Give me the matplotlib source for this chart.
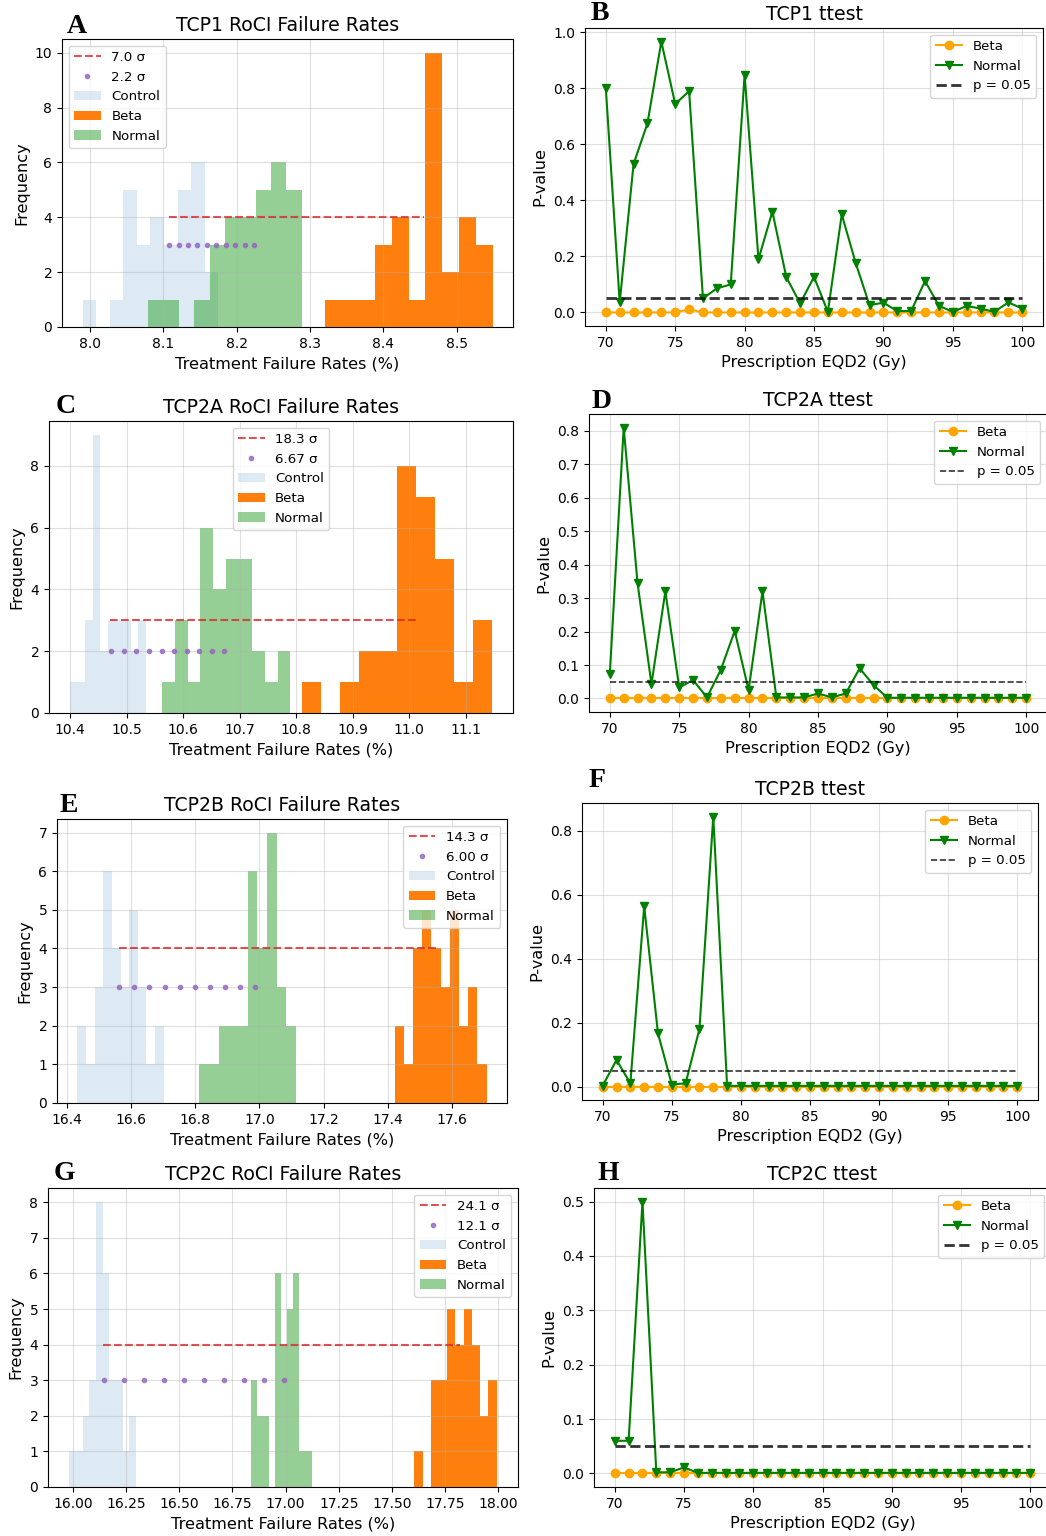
import numpy as np
import matplotlib
matplotlib.use("Agg")
import matplotlib.pyplot as plt
from matplotlib.ticker import MultipleLocator, FormatStrFormatter

# ---------------- data ----------------
# Histogram panels: bin range (lo, hi) and 10 counts per series
A_ctrl_range = (7.990, 8.175)
A_ctrl_counts = [1, 0, 1, 5, 3, 4, 3, 5, 6, 2]
A_norm_range = (8.0795, 8.2886)
A_norm_counts = [1, 1, 0, 1, 3, 4, 4, 5, 6, 5]
A_beta_range = (8.3200, 8.5486)
A_beta_counts = [1, 1, 1, 3, 4, 1, 10, 2, 4, 3]
A_red = (8.108, 8.455, 4)
A_purple = (8.108, 8.224, 3)
A_sig = ("7.0 σ", "2.2 σ")

C_ctrl_range = (10.400, 10.534)
C_ctrl_counts = [1, 1, 3, 9, 2, 3, 3, 3, 2, 3]
C_norm_range = (10.5624, 10.7898)
C_norm_counts = [1, 3, 1, 6, 4, 5, 5, 2, 1, 2]
C_beta_range = (10.8093, 11.146)
C_beta_counts = [1, 0, 1, 2, 2, 8, 7, 5, 1, 3]
C_red = (10.471, 11.014, 3)
C_purple = (10.473, 10.673, 2)
C_sig = ("18.3 σ", "6.67 σ")

E_ctrl_range = (16.4332, 16.7013)
E_ctrl_counts = [2, 1, 3, 6, 4, 3, 5, 3, 1, 2]
E_norm_range = (16.8125, 17.1138)
E_norm_counts = [1, 1, 2, 2, 2, 6, 4, 7, 3, 2]
E_beta_range = (17.4213, 17.707)
E_beta_counts = [2, 1, 4, 5, 4, 3, 5, 2, 3, 1]
E_red = (16.563, 17.553, 4)
E_purple = (16.563, 16.987, 3)
E_sig = ("14.3 σ", "6.00 σ")

G_ctrl_range = (15.984, 16.297)
G_ctrl_counts = [1, 1, 2, 3, 8, 6, 3, 3, 1, 2]
G_norm_range = (16.836, 17.122)
G_norm_counts = [3, 2, 2, 0, 6, 4, 5, 6, 1, 1]
G_beta_range = (17.605, 17.992)
G_beta_counts = [1, 0, 3, 3, 5, 4, 5, 4, 2, 3]
G_red = (16.141, 17.820, 4)
G_purple = (16.145, 16.992, 3)
G_sig = ("24.1 σ", "12.1 σ")

# t-test panels
dose = list(range(70, 101))
B_normal = [0.80, 0.036, 0.53, 0.675, 0.967, 0.744, 0.79, 0.05, 0.086, 0.10,
            0.848, 0.19, 0.36, 0.127, 0.032, 0.127, 0.002, 0.35, 0.177, 0.026,
            0.035, 0.005, 0.005, 0.112, 0.024, 0.002, 0.023, 0.014, 0.002, 0.036, 0.014]
B_beta = [0.0, 0.0, 0.0, 0.0, 0.0, 0.0, 0.011, 0.0, 0.0, 0.0,
          0.0, 0.0, 0.0, 0.0, 0.0, 0.0, 0.0, 0.0, 0.0, 0.0,
          0.0, 0.0, 0.0, 0.0, 0.0, 0.0, 0.0, 0.0, 0.0, 0.0, 0.0]
D_normal = [0.073, 0.81, 0.344, 0.043, 0.32, 0.033, 0.055, 0.003, 0.086, 0.202,
            0.025, 0.32, 0.003, 0.003, 0.003, 0.015, 0.003, 0.015, 0.09, 0.04,
            0.002, 0.002, 0.002, 0.002, 0.002, 0.002, 0.002, 0.002, 0.002, 0.002, 0.002]
D_beta = [0.0] * 31
F_normal = [0.003, 0.083, 0.01, 0.564, 0.166, 0.006, 0.01, 0.18, 0.845, 0.002,
            0.002, 0.002, 0.002, 0.002, 0.002, 0.002, 0.002, 0.002, 0.002, 0.002,
            0.002, 0.002, 0.002, 0.002, 0.002, 0.002, 0.002, 0.002, 0.002, 0.002, 0.002]
F_beta = [0.0] * 31
H_normal = [0.06, 0.06, 0.5, 0.002, 0.002, 0.011, 0.001, 0.001, 0.001, 0.001,
            0.001, 0.001, 0.001, 0.001, 0.001, 0.001, 0.001, 0.001, 0.001, 0.001,
            0.001, 0.001, 0.001, 0.001, 0.001, 0.001, 0.001, 0.001, 0.001, 0.001, 0.001]
H_beta = [0.0] * 31
p_thresh = 0.05

# ---------------- style ----------------
plt.rcParams['font.family'] = ['DejaVu Sans']
TITLE_FS = 13.6
LABEL_FS = 11.6
TICK_FS = 10
LEG_FS = 9.6
LETTER_FS = 20

W, H = 1046, 1536
fig = plt.figure(figsize=(W / 100, H / 100), dpi=100)


def add_ax(l, r, t, b):
    return fig.add_axes([l / W, 1 - b / H, (r - l) / W, (b - t) / H])


def letter(ch, x, y):
    fig.text(x / W, 1 - y / H, ch, fontsize=LETTER_FS, fontweight='bold',
             family=['Liberation Serif', 'DejaVu Serif'], va='baseline', ha='left')


def hist_panel(ax, title, ctrl, norm, beta, red, purple, sig, legloc,
               xstep, ystep, xfmt=None):
    r, = ax.plot([red[0], red[1]], [red[2], red[2]], '--', color='tab:red', alpha=0.8,
                 lw=1.5, label=sig[0])
    px = np.linspace(purple[0], purple[1], 10)
    p, = ax.plot(px, [purple[2]] * len(px), '.', color='tab:purple', alpha=0.8,
                 ms=6, label=sig[1])
    hs = []
    for (rng, cnt), col, alpha, lab in [(ctrl, 'tab:blue', 0.15, 'Control'),
                                        (beta, 'tab:orange', 1.0, 'Beta'),
                                        (norm, 'tab:green', 0.5, 'Normal')]:
        edges = np.linspace(rng[0], rng[1], len(cnt) + 1)
        centers = 0.5 * (edges[:-1] + edges[1:])
        _, _, patches = ax.hist(centers, bins=edges, weights=cnt, color=col,
                                alpha=alpha, label=lab)
        hs.append(patches[0])
    ax.legend([r, p] + hs, [sig[0], sig[1], 'Control', 'Beta', 'Normal'],
              loc=legloc, fontsize=LEG_FS)
    ax.set_title(title, fontsize=TITLE_FS)
    ax.set_xlabel('Treatment Failure Rates (%)', fontsize=LABEL_FS)
    ax.set_ylabel('Frequency', fontsize=LABEL_FS)
    ax.xaxis.set_major_locator(MultipleLocator(xstep))
    ax.yaxis.set_major_locator(MultipleLocator(ystep))
    if xfmt:
        ax.xaxis.set_major_formatter(FormatStrFormatter(xfmt))
    ax.tick_params(labelsize=TICK_FS)
    ax.grid(True, alpha=0.4)


def ttest_panel(ax, title, beta, normal, ystep, plw):
    ax.plot(dose, beta, '-o', color='orange', label='Beta')
    ax.plot(dose, normal, '-v', color='green', label='Normal')
    ax.hlines(p_thresh, dose[0], dose[-1], colors='k', linestyles='--', lw=plw,
              alpha=0.8, label='p = 0.05')
    ax.legend(loc='upper right', fontsize=LEG_FS)
    ax.set_title(title, fontsize=TITLE_FS)
    ax.set_xlabel('Prescription EQD2 (Gy)', fontsize=LABEL_FS)
    ax.set_ylabel('P-value', fontsize=LABEL_FS)
    ax.xaxis.set_major_locator(MultipleLocator(5))
    ax.yaxis.set_major_locator(MultipleLocator(ystep))
    ax.tick_params(labelsize=TICK_FS)
    ax.grid(True, alpha=0.4)


axA = add_ax(62, 513, 39, 327)
hist_panel(axA, 'TCP1 RoCI Failure Rates', (A_ctrl_range, A_ctrl_counts),
           (A_norm_range, A_norm_counts), (A_beta_range, A_beta_counts),
           A_red, A_purple, A_sig, 'upper left', 0.1, 2)
axB = add_ax(585, 1043, 28, 326)
ttest_panel(axB, 'TCP1 ttest', B_beta, B_normal, 0.2, 2.0)

axC = add_ax(49, 513, 421, 713)
hist_panel(axC, 'TCP2A RoCI Failure Rates', (C_ctrl_range, C_ctrl_counts),
           (C_norm_range, C_norm_counts), (C_beta_range, C_beta_counts),
           C_red, C_purple, C_sig, 'upper center', 0.1, 2)
axD = add_ax(589, 1047, 414, 712)
ttest_panel(axD, 'TCP2A ttest', D_beta, D_normal, 0.1, 1.2)

axE = add_ax(57, 507, 819, 1103)
hist_panel(axE, 'TCP2B RoCI Failure Rates', (E_ctrl_range, E_ctrl_counts),
           (E_norm_range, E_norm_counts), (E_beta_range, E_beta_counts),
           E_red, E_purple, E_sig, 'upper right', 0.2, 1)
axF = add_ax(582, 1038, 803, 1100)
ttest_panel(axF, 'TCP2B ttest', F_beta, F_normal, 0.2, 1.2)

axG = add_ax(48, 518, 1188, 1487)
hist_panel(axG, 'TCP2C RoCI Failure Rates', (G_ctrl_range, G_ctrl_counts),
           (G_norm_range, G_norm_counts), (G_beta_range, G_beta_counts),
           G_red, G_purple, G_sig, 'upper right', 0.25, 1, '%.2f')
axH = add_ax(594, 1051, 1188, 1487)
ttest_panel(axH, 'TCP2C ttest', H_beta, H_normal, 0.1, 2.0)

letter('A', 67, 33)
letter('B', 591, 20)
letter('C', 56, 413)
letter('D', 592, 408)
letter('E', 60, 812)
letter('F', 589, 787)
letter('G', 54, 1180)
letter('H', 597, 1180)

fig.savefig('out.png', dpi=100)
